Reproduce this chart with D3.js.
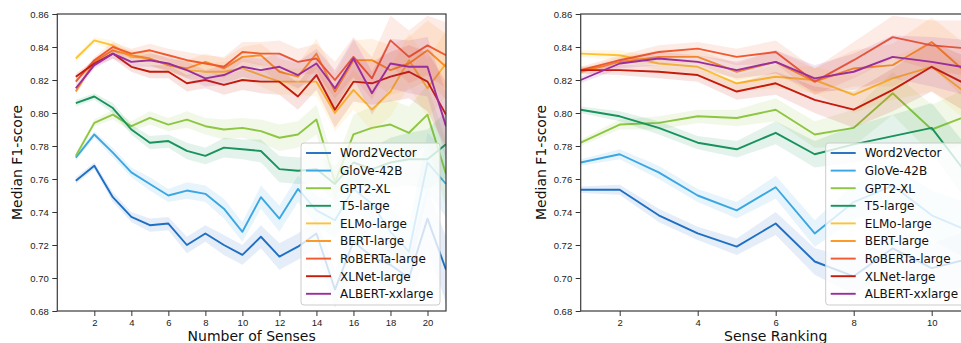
<!DOCTYPE html>
<html>
<head>
<meta charset="utf-8">
<script src="https://cdn.jsdelivr.net/npm/d3@7"></script>
<style>
  body { margin: 0; background: #fff; }
  svg { display: block; font-family: "DejaVu Sans", sans-serif; }
  .tick text { font-size: 9.5px; fill: #222; }
  .tick line { stroke: #333; }
  .domain { display: none; }
</style>
</head>
<body>
<svg id="chart" width="961" height="343"></svg>
<script>
// model names + colours (legend order)
const models = ["Word2Vector", "GloVe-42B", "GPT2-XL", "T5-large", "ELMo-large",
  "BERT-large", "RoBERTa-large", "XLNet-large", "ALBERT-xxlarge"];
const modelColours = ["#1f6fc2", "#3ba7e2", "#8dc640", "#17935b", "#fdc332",
  "#fb951e", "#f05a30", "#c41b0b", "#9a2e9c"];

// left panel: number of senses
const numSenses = [1, 2, 3, 4, 5, 6, 7, 8, 9, 10, 11, 12, 13, 14, 15, 16, 17, 18, 19, 20, 21];
const w2vNum = [0.759, 0.768, 0.749, 0.737, 0.732, 0.733, 0.720, 0.727, 0.720, 0.714, 0.725, 0.713, 0.719, 0.727, 0.693, 0.722, 0.713, 0.708, 0.700, 0.736, 0.705];
const gloveNum = [0.773, 0.787, 0.776, 0.764, 0.757, 0.750, 0.753, 0.751, 0.742, 0.728, 0.749, 0.736, 0.754, 0.741, 0.735, 0.754, 0.745, 0.728, 0.716, 0.770, 0.757];
const gpt2Num = [0.774, 0.794, 0.799, 0.792, 0.797, 0.793, 0.796, 0.792, 0.790, 0.791, 0.789, 0.785, 0.787, 0.796, 0.758, 0.787, 0.791, 0.793, 0.788, 0.799, 0.763];
const t5Num = [0.806, 0.810, 0.803, 0.790, 0.782, 0.783, 0.777, 0.774, 0.779, 0.778, 0.777, 0.766, 0.765, 0.766, 0.757, 0.770, 0.766, 0.770, 0.772, 0.772, 0.781];
const elmoNum = [0.833, 0.844, 0.841, 0.834, 0.833, 0.829, 0.826, 0.825, 0.825, 0.827, 0.823, 0.819, 0.819, 0.819, 0.800, 0.814, 0.802, 0.813, 0.832, 0.815, 0.830];
const bertNum = [0.813, 0.831, 0.838, 0.835, 0.833, 0.829, 0.827, 0.831, 0.827, 0.834, 0.835, 0.825, 0.822, 0.836, 0.813, 0.832, 0.832, 0.826, 0.830, 0.838, 0.828];
const robertaNum = [0.819, 0.832, 0.840, 0.836, 0.838, 0.835, 0.832, 0.830, 0.828, 0.837, 0.836, 0.836, 0.831, 0.833, 0.820, 0.834, 0.821, 0.844, 0.834, 0.841, 0.835];
const xlnetNum = [0.822, 0.830, 0.836, 0.828, 0.825, 0.825, 0.818, 0.820, 0.817, 0.820, 0.819, 0.819, 0.810, 0.823, 0.802, 0.819, 0.818, 0.822, 0.825, 0.819, 0.799];
const albertNum = [0.815, 0.829, 0.836, 0.831, 0.832, 0.830, 0.826, 0.821, 0.823, 0.828, 0.826, 0.828, 0.823, 0.830, 0.815, 0.833, 0.812, 0.830, 0.828, 0.828, 0.792];
// half width of the shaded band
const ciNum = [0.002, 0.002, 0.003, 0.003, 0.004, 0.004, 0.005, 0.005, 0.006, 0.006, 0.007, 0.008, 0.008, 0.009, 0.011, 0.012, 0.013, 0.015, 0.016, 0.018, 0.020];

// right panel: sense ranking
const senseRank = [1, 2, 3, 4, 5, 6, 7, 8, 9, 10, 11];
const w2vRank = [0.7535, 0.7535, 0.738, 0.727, 0.719, 0.733, 0.710, 0.701, 0.718, 0.706, 0.712];
const gloveRank = [0.770, 0.775, 0.764, 0.750, 0.741, 0.755, 0.727, 0.746, 0.756, 0.738, 0.728];
const gpt2Rank = [0.782, 0.793, 0.794, 0.798, 0.797, 0.802, 0.787, 0.791, 0.812, 0.790, 0.799];
const t5Rank = [0.802, 0.798, 0.791, 0.782, 0.778, 0.788, 0.775, 0.781, 0.786, 0.791, 0.760];
const elmoRank = [0.836, 0.835, 0.830, 0.828, 0.818, 0.822, 0.820, 0.811, 0.821, 0.828, 0.810];
const bertRank = [0.825, 0.831, 0.834, 0.834, 0.825, 0.831, 0.819, 0.827, 0.829, 0.843, 0.822];
const robertaRank = [0.826, 0.832, 0.837, 0.839, 0.834, 0.837, 0.819, 0.832, 0.846, 0.841, 0.839];
const xlnetRank = [0.826, 0.826, 0.825, 0.823, 0.813, 0.818, 0.808, 0.802, 0.814, 0.828, 0.816];
const albertRank = [0.820, 0.830, 0.833, 0.831, 0.826, 0.831, 0.821, 0.825, 0.834, 0.831, 0.827];
const ciRank = [0.002, 0.003, 0.004, 0.004, 0.005, 0.007, 0.008, 0.011, 0.013, 0.015, 0.017];

const yTicks = [0.68, 0.70, 0.72, 0.74, 0.76, 0.78, 0.80, 0.82, 0.84, 0.86];

class SensePanel {

  constructor(_config) {
    this.config = {
      svg: _config.svg,
      id: _config.id,
      left: _config.left,
      width: _config.width,
      top: 14,
      height: 297,
      xDomain: _config.xDomain,
      xTicks: _config.xTicks,
      xLabel: _config.xLabel,
      xs: _config.xs,
      series: _config.series,
      ci: _config.ci
    };
    this.initVis();
  }

  initVis() {
    let vis = this;
    let c = vis.config;

    vis.x = d3.scaleLinear().domain(c.xDomain).range([0, c.width]);
    vis.y = d3.scaleLinear().domain([0.68, 0.86]).range([c.height, 0]);

    vis.g = c.svg.append("g").attr("transform", `translate(${c.left},${c.top})`);

    c.svg.append("defs").append("clipPath").attr("id", "clip-" + c.id)
        .append("rect").attr("width", c.width).attr("height", c.height);

    vis.plot = vis.g.append("g").attr("clip-path", `url(#clip-${c.id})`);

    vis.g.append("g")
        .attr("transform", `translate(0,${c.height})`)
        .call(d3.axisBottom(vis.x).tickValues(c.xTicks).tickSize(5).tickPadding(3.5).tickFormat(d3.format("d")));

    vis.g.append("g")
        .call(d3.axisLeft(vis.y).tickValues(yTicks).tickSize(5).tickPadding(3.5).tickFormat(d3.format(".2f")));

    // the label sits right on the bottom edge, as in the original figure
    vis.g.append("text")
        .attr("x", c.width / 2)
        .attr("y", c.height + 30)
        .attr("text-anchor", "middle")
        .style("font-size", "14px")
        .style("fill", "#111")
        .text(c.xLabel);

    vis.g.append("text")
        .attr("transform", `translate(-35,${c.height / 2}) rotate(-90)`)
        .attr("text-anchor", "middle")
        .style("font-size", "14px")
        .style("fill", "#111")
        .text("Median F1-score");
  }

  render() {
    let vis = this;
    let c = vis.config;

    let area = d3.area()
        .x((d, i) => vis.x(c.xs[i]))
        .y0((d, i) => vis.y(d - c.ci[i]))
        .y1((d, i) => vis.y(d + c.ci[i]));
    let line = d3.line()
        .x((d, i) => vis.x(c.xs[i]))
        .y(d => vis.y(d));

    c.series.forEach((vals, k) => {
      vis.plot.append("path")
          .attr("d", area(vals))
          .style("fill", modelColours[k])
          .style("fill-opacity", 0.12);
      vis.plot.append("path")
          .attr("d", line(vals))
          .style("fill", "none")
          .style("stroke", modelColours[k])
          .style("stroke-width", 1.9)
          .style("stroke-linejoin", "round");
    });

    // frame
    vis.g.append("rect")
        .attr("width", c.width)
        .attr("height", c.height)
        .style("fill", "none")
        .style("stroke", "#3a3a3a")
        .style("stroke-width", 1.2);

    // legend, lower right
    let lw = 139, lh = 162;
    let legend = vis.g.append("g")
        .attr("transform", `translate(${c.width - 6 - lw},${c.height - 6 - lh})`);
    legend.append("rect")
        .attr("width", lw)
        .attr("height", lh)
        .attr("rx", 3)
        .style("fill", "#fff")
        .style("fill-opacity", 0.8)
        .style("stroke", "#cccccc")
        .style("stroke-width", 1);
    models.forEach((m, k) => {
      let yy = 10 + k * 17.6;
      legend.append("line")
          .attr("x1", 5).attr("x2", 30)
          .attr("y1", yy).attr("y2", yy)
          .style("stroke", modelColours[k])
          .style("stroke-width", 1.9);
      legend.append("text")
          .attr("x", 39)
          .attr("y", yy + 4.3)
          .style("font-size", "12px")
          .style("fill", "#111")
          .text(m);
    });
  }
}

const svg = d3.select("#chart");

let numPanel = new SensePanel({
  svg: svg,
  id: "num",
  left: 57.3,
  width: 388.7,
  xDomain: [0, 21],
  xTicks: [2, 4, 6, 8, 10, 12, 14, 16, 18, 20],
  xLabel: "Number of Senses",
  xs: numSenses,
  series: [w2vNum, gloveNum, gpt2Num, t5Num, elmoNum, bertNum, robertaNum, xlnetNum, albertNum],
  ci: ciNum
});
numPanel.render();

let rankPanel = new SensePanel({
  svg: svg,
  id: "rank",
  left: 580.7,
  width: 390,
  xDomain: [1, 11],
  xTicks: [2, 4, 6, 8, 10],
  xLabel: "Sense Ranking",
  xs: senseRank,
  series: [w2vRank, gloveRank, gpt2Rank, t5Rank, elmoRank, bertRank, robertaRank, xlnetRank, albertRank],
  ci: ciRank
});
rankPanel.render();
</script>
</body>
</html>
